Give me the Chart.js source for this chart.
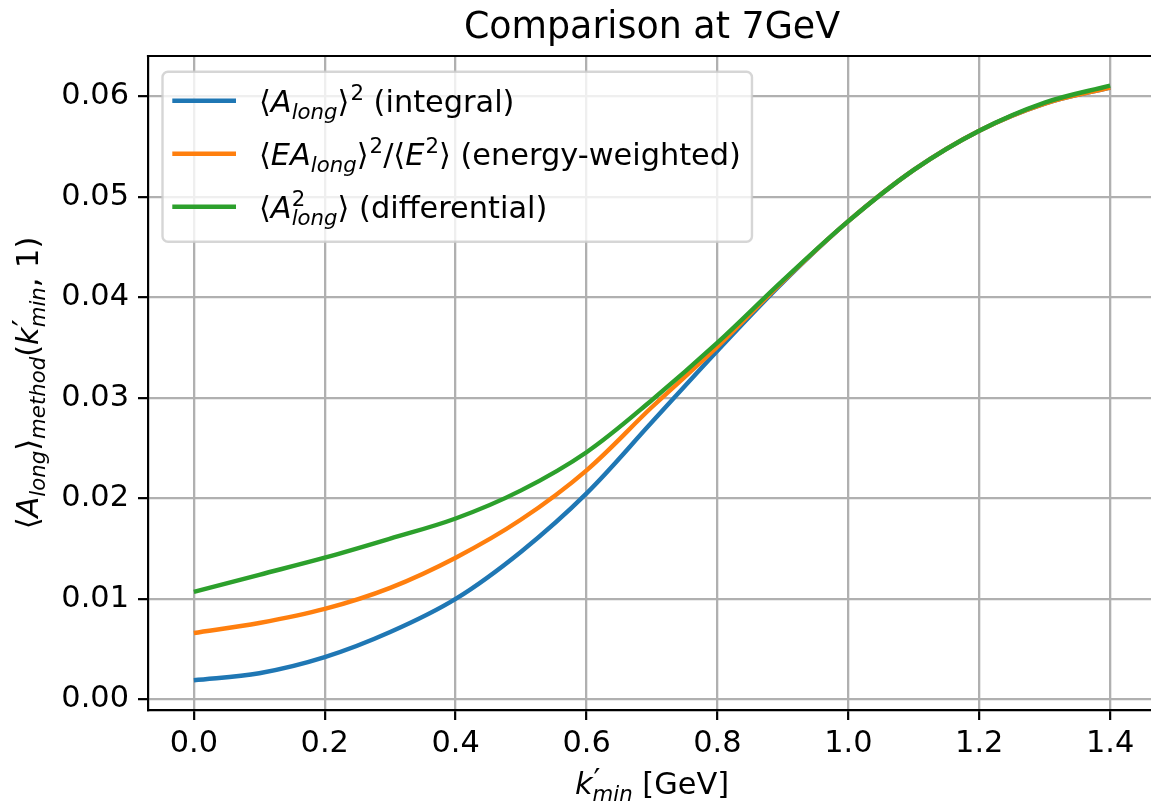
<!DOCTYPE html>
<html lang="en">
<head>
<meta charset="UTF-8">
<title>Comparison at 7GeV</title>
<script src="https://cdn.jsdelivr.net/npm/chart.js"></script>
<style>
  body { margin: 0; overflow: hidden; background: #fff; }
  #wrap { position: relative; width: 1200px; height: 807px; }
</style>
</head>
<body>
<div id="wrap"><canvas id="chart"></canvas></div>
<script>
// values
const kMin = [0.0, 0.1, 0.2, 0.3, 0.4, 0.5, 0.6, 0.7, 0.8, 0.9, 1.0, 1.1, 1.2, 1.3, 1.4];
const integral = [0.0019, 0.0026, 0.0042, 0.0067, 0.0100, 0.0147, 0.0205, 0.0276, 0.0347, 0.0415, 0.0476, 0.0527, 0.0566, 0.0593, 0.0609];
const energyWeighted = [0.0066, 0.0076, 0.0090, 0.0111, 0.0141, 0.0179, 0.0228, 0.0291, 0.0351, 0.0416, 0.0476, 0.0527, 0.0566, 0.0593, 0.0609];
const differential = [0.0107, 0.0124, 0.0141, 0.0160, 0.0180, 0.0208, 0.0246, 0.0298, 0.0355, 0.0417, 0.0476, 0.0527, 0.0566, 0.0594, 0.0611];
const xTicks = [0.0, 0.2, 0.4, 0.6, 0.8, 1.0, 1.2, 1.4];
const yTicks = [0.00, 0.01, 0.02, 0.03, 0.04, 0.05, 0.06];
const title = 'Comparison at 7GeV';

const colors = ['#1f77b4', '#ff7f0e', '#2ca02c'];
const FONT = '"DejaVu Sans", sans-serif';
const FS = 30.4;

// label pieces: i = italic, sub / sup = small, stack = sup over sub
const legendLabels = [
    [{t: '⟨'}, {t: 'A', i: 1}, {t: 'long', i: 1, sub: 1}, {t: '⟩'}, {t: '2', sup: 1}, {t: ' (integral)'}],
    [{t: '⟨'}, {t: 'EA', i: 1}, {t: 'long', i: 1, sub: 1}, {t: '⟩'}, {t: '2', sup: 1}, {t: '/⟨'}, {t: 'E', i: 1}, {t: '2', sup: 1}, {t: '⟩'}, {t: ' (energy-weighted)'}],
    [{t: '⟨'}, {t: 'A', i: 1}, {stack: ['2', 'long']}, {t: '⟩'}, {t: ' (differential)'}]
];
const yTitle = [{t: '⟨'}, {t: 'A', i: 1}, {t: 'long', i: 1, sub: 1}, {t: '⟩'}, {t: 'method', i: 1, sub: 1}, {t: '('}, {t: 'k', i: 1}, {stack: ['′', 'min']}, {t: ', 1)'}];
const xTitle = [{t: 'k', i: 1}, {stack: ['′', 'min']}, {t: ' [GeV]'}];

function fontFor(size, italic) {
    return (italic ? 'italic ' : '') + size + 'px ' + FONT;
}

// draws (or just measures) a rich label, x = left, y = baseline
function rich(ctx, parts, x, y, size, draw) {
    let cx = x;
    const s = size * 0.7;
    for (const p of parts) {
        if (p.stack) {
            const prime = p.stack[0] === '′';
            ctx.font = fontFor(prime ? size : s, false);
            const w1 = ctx.measureText(p.stack[0]).width;
            if (draw) ctx.fillText(p.stack[0], cx + (prime ? 1 : 0), y - size * (prime ? 0.12 : 0.4));
            ctx.font = fontFor(s, true);
            const w2 = ctx.measureText(p.stack[1]).width;
            if (draw) ctx.fillText(p.stack[1], cx, y + size * 0.24);
            cx += Math.max(w1, w2);
        } else if (p.sub) {
            ctx.font = fontFor(s, p.i);
            if (draw) ctx.fillText(p.t, cx, y + size * 0.24);
            cx += ctx.measureText(p.t).width;
        } else if (p.sup) {
            ctx.font = fontFor(s, p.i);
            if (draw) ctx.fillText(p.t, cx + 1, y - size * 0.4);
            cx += ctx.measureText(p.t).width + 1;
        } else {
            ctx.font = fontFor(size, p.i);
            if (draw) ctx.fillText(p.t, cx, y);
            cx += ctx.measureText(p.t).width;
        }
    }
    return cx - x;
}

const extras = {
    id: 'extras',
    afterDraw(chart) {
        const ctx = chart.ctx;
        const a = chart.chartArea;
        const midX = (a.left + a.right) / 2;
        ctx.save();
        ctx.fillStyle = '#000';
        ctx.textBaseline = 'alphabetic';
        ctx.textAlign = 'left';

        // top spine
        ctx.strokeStyle = '#000';
        ctx.lineWidth = 2.2;
        ctx.beginPath();
        ctx.moveTo(a.left - 1.1, a.top);
        ctx.lineTo(a.right, a.top);
        ctx.stroke();

        // title
        ctx.font = fontFor(36.4, false);
        ctx.textAlign = 'center';
        ctx.fillText(title, midX, 38);
        ctx.textAlign = 'left';

        // axis titles
        const xw = rich(ctx, xTitle, 0, 0, FS, false);
        rich(ctx, xTitle, midX - xw / 2, 794, FS, true);
        ctx.save();
        ctx.translate(38, (a.top + a.bottom) / 2);
        ctx.rotate(-Math.PI / 2);
        const yw = rich(ctx, yTitle, 0, 0, FS, false);
        rich(ctx, yTitle, -yw / 2, 0, FS, true);
        ctx.restore();

        // legend
        const bx = 162.5, by = 71.7, rowH = 53;
        const textX = 259;
        let maxW = 0;
        legendLabels.forEach(l => { maxW = Math.max(maxW, rich(ctx, l, 0, 0, FS, false)); });
        const bw = textX + maxW + 11 - bx, bh = 170;
        ctx.beginPath();
        ctx.roundRect(bx, by, bw, bh, 5.5);
        ctx.fillStyle = 'rgba(255,255,255,0.8)';
        ctx.fill();
        ctx.strokeStyle = 'rgba(204,204,204,0.8)';
        ctx.lineWidth = 2.4;
        ctx.stroke();
        legendLabels.forEach((l, k) => {
            const ly = 100.7 + k * rowH;
            ctx.strokeStyle = colors[k];
            ctx.lineWidth = 4.4;
            ctx.beginPath();
            ctx.moveTo(172.3, ly);
            ctx.lineTo(236, ly);
            ctx.stroke();
            ctx.fillStyle = '#000';
            rich(ctx, l, textX, ly + 11, FS, true);
        });
        ctx.restore();
    }
};

function series(label, values, color, order) {
    return {
        label: label,
        data: kMin.map((k, i) => ({x: k, y: values[i]})),
        borderColor: color,
        backgroundColor: color,
        borderWidth: 4.4,
        pointRadius: 0,
        tension: 0.35,
        fill: false,
        order: order
    };
}

new Chart(document.getElementById('chart'), {
    type: 'line',
    data: {
        datasets: [
            series('integral', integral, colors[0], 3),
            series('energy-weighted', energyWeighted, colors[1], 2),
            series('differential', differential, colors[2], 1)
        ]
    },
    options: {
        responsive: true,
        maintainAspectRatio: false,
        animation: false,
        layout: {padding: {left: 0, right: 44, top: 56, bottom: 0}},
        plugins: {
            legend: {display: false},
            tooltip: {enabled: false},
            title: {display: false}
        },
        scales: {
            x: {
                type: 'linear',
                min: -0.07,
                max: 1.47,
                afterBuildTicks: s => { s.ticks = xTicks.map(v => ({value: v})); },
                afterFit: s => { s.height = 97; },
                ticks: {
                    color: '#000',
                    font: {family: FONT, size: FS},
                    padding: 6,
                    maxRotation: 0,
                    autoSkip: false,
                    callback: v => v.toFixed(1)
                },
                grid: {color: '#b0b0b0', lineWidth: 2.3, tickColor: '#000', tickWidth: 2.2, tickLength: 10},
                border: {display: true, color: '#000', width: 2.2}
            },
            y: {
                type: 'linear',
                min: -0.00106,
                max: 0.06404,
                afterBuildTicks: s => { s.ticks = yTicks.map(v => ({value: v})); },
                afterFit: s => { s.width = 148; },
                ticks: {
                    color: '#000',
                    font: {family: FONT, size: FS},
                    padding: 9,
                    autoSkip: false,
                    callback: v => v.toFixed(2)
                },
                grid: {color: '#b0b0b0', lineWidth: 2.3, tickColor: '#000', tickWidth: 2.2, tickLength: 10},
                border: {display: true, color: '#000', width: 2.2}
            }
        }
    },
    plugins: [extras]
});
</script>
</body>
</html>
